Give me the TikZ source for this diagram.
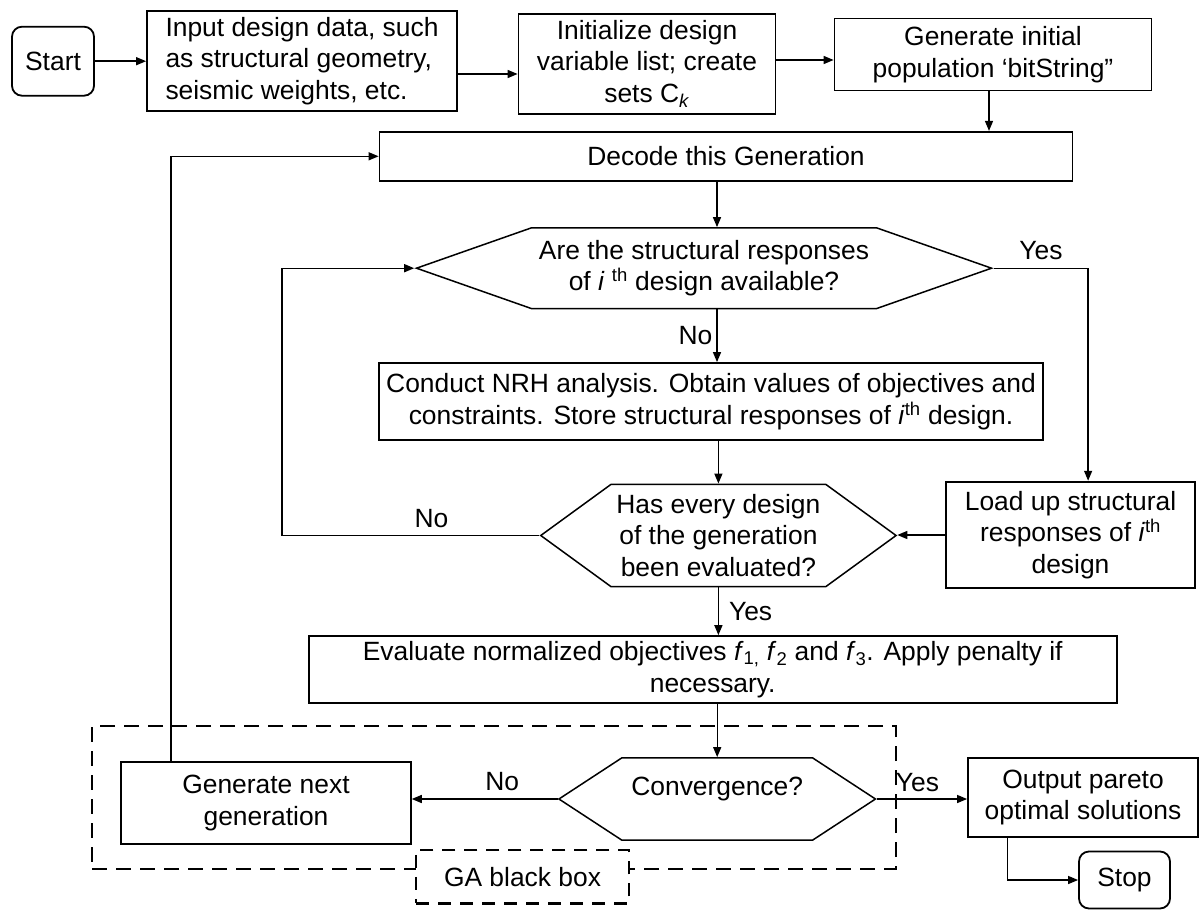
\documentclass[tikz,border=0pt]{standalone}
\usepackage{fontspec}
\setmainfont{Liberation Sans}
\usetikzlibrary{shapes.symbols, positioning, arrows.meta}
\newcommand{\flowfont}{\fontsize{26.4}{31.5}\selectfont}
\tikzset{
    block/.style={
        draw,
        rectangle,
        line width=1.8pt,
        inner sep=0pt,
        align=center,
        font=\flowfont,
    },
    term/.style={block, rounded corners=10pt},
    decision/.style={
        draw,
        shape=signal,
        signal to=west and east,
        signal from=nowhere,
        line width=1.5pt,
        inner sep=0pt,
        align=center,
        font=\flowfont,
    },
    conn/.style={line width=1.4pt, -{Triangle[length=10pt,width=8pt]}},
    tag/.style={font=\flowfont, inner sep=0pt},
    blackbox/.style={draw, dash pattern=on 15pt off 9pt, line width=2.8pt},
}

\begin{document}
\begin{tikzpicture}[x=1pt, y=-1pt]
                   \useasboundingbox (0,0) rectangle (1201,912);
                   \node[blackbox, minimum width=804, minimum height=143] (ga) at (494,797.5) {};
                   \node[term, minimum width=82, minimum height=69] (start) at (53,61.2) {Start};
                   \node[block, minimum width=310, minimum height=100, align=left] (input) at (302,60.7) {Input design data, such\\as structural geometry,\\seismic weights, etc.};
                   \node[block, minimum width=257, minimum height=100] (init) at (647,63.7) {Initialize design\\variable list; create\\sets C\textsubscript{\textit{k}}};
                   \node[block, minimum width=317, minimum height=72] (gen) at (993,54.5) {Generate initial\\population ‘bitString”};
                   \node[block, minimum width=693, minimum height=49] (decode) at (726,156.3) {Decode this Generation};
                   \node[decision, minimum width=575, minimum height=80.6, signal pointer angle=38.7] (avail) at (704,268.2) {Are the structural responses\\of \textit{i} \textsuperscript{th} design available?};
                   \node[block, minimum width=664, minimum height=77] (conduct) at (711,401.5) {Conduct NRH analysis. Obtain values of objectives and\\constraints. Store structural responses of \textit{i}\textsuperscript{th} design.};
                   \node[decision, minimum width=355.3, minimum height=102.4, signal pointer angle=72.1] (every) at (718.4,535.5) {Has every design\\of the generation\\been evaluated?};
                   \node[block, minimum width=249, minimum height=106.7] (load) at (1070.5,535) {Load up structural\\responses of \textit{i}\textsuperscript{th}\\design};
                   \node[block, minimum width=808, minimum height=67.3] (eval) at (712.7,669.7) {Evaluate normalized objectives \textit{f}\textsubscript{1,} \textit{f}\textsubscript{2} and \textit{f}\textsubscript{3}. Apply penalty if\\necessary.};
                   \node[decision, minimum width=316.5, minimum height=82.3, signal pointer angle=66.4, text height=19.3pt, text depth=26pt] (conv) at (717.2,799) {Convergence?};
                   \node[block, minimum width=289.7, minimum height=82.6] (next) at (266,803) {Generate next\\generation};
                   \node[block, minimum width=230, minimum height=78.7] (out) at (1083,797.3) {Output pareto\\optimal solutions};
                   \node[term, minimum width=91, minimum height=57] (stop) at (1124.5,880) {Stop};
                   \node[blackbox, fill=white, dash pattern=on 13pt off 9pt, line width=2.5pt, minimum width=213, minimum height=53.3, font=\flowfont] (galabel) at (522.5,876.7) {GA black box};
                   \draw[conn] (start.east) -- (start.east -| input.west);
                   \draw[conn] ([yshift=-13.3pt]input.east) -- ([yshift=-13.3pt]input.east -| init.west);
                   \draw[conn] ([yshift=-5.5pt]gen.west -| init.east) -- ([yshift=-5.5pt]gen.west);
                   \draw[conn] ([xshift=-4pt]gen.south) -- ([xshift=-4pt]gen.south |- decode.north);
                   \draw[conn] ([xshift=-9pt]decode.south) -- ([xshift=-9pt]decode.south |- avail.north);
                   \draw[conn] ([xshift=13pt]avail.south) -- node[tag, left=4pt] {No} ([xshift=13pt]avail.south |- conduct.north);
                   \draw[conn] (every.north |- conduct.south) -- (every.north);
                   \draw[conn] (every.west) -- node[tag, pos=0.42, above=7pt] {No} ++(-257.3,0) |- (avail.west);
                   \draw[conn] (avail.east) -| node[tag, pos=0.25, above=8pt] {Yes} ([xshift=17.6pt]load.north);
                   \draw[conn] (load.west) -- (load.west -| every.east);
                   \draw[conn] (every.south) -- node[tag, right=10pt] {Yes} (every.south |- eval.north);
                   \draw[conn] (conv.north |- eval.south) -- (conv.north);
                   \draw[conn] (conv.west) -- node[tag, pos=0.38, above=8pt] {No} (conv.west -| next.east);
                   \draw[conn] ([xshift=-95pt]next.north) |- (decode.west);
                   \draw[conn] (conv.east) -- node[tag, pos=0.45, above=7pt] {Yes} (conv.east -| out.west);
                   \draw[conn] ([xshift=-75.5pt]out.south) |- (stop.west);
                   \end{tikzpicture}
\end{document}
